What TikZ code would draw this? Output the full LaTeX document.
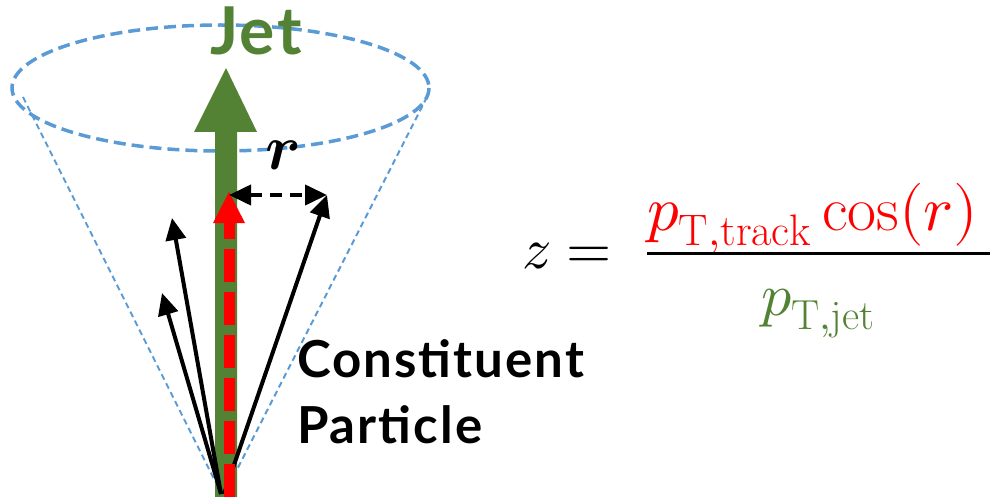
\documentclass[tikz,border=0pt]{standalone}
\usepackage{fontspec}
\usepackage{unicode-math}
\setmathfont{Latin Modern Math}
\newfontfamily\labelfont{Lato}[LetterSpace=4]
\usetikzlibrary{arrows.meta}
\definecolor{jetgreen}{HTML}{548235}
\definecolor{coneblue}{HTML}{5B9BD5}
\definecolor{trkred}{HTML}{FF0000}
\tikzset{
  conerim/.style={draw=coneblue, line width=3.5pt, dash pattern=on 12pt off 6pt},
  coneside/.style={draw=coneblue, line width=2pt, dash pattern=on 6pt off 4pt},
  partarrow/.style={draw=black, line width=4pt, -{Triangle[width=20pt,length=22pt]}},
  lbl/.style={inner sep=0pt, outer sep=0pt},
}
\begin{document}
\begin{tikzpicture}[x=1pt,y=-1pt]
\useasboundingbox (0,0) rectangle (992,497);
% cone
\coordinate (cl) at (23,97);
\coordinate (cr) at (427,97);
\coordinate (apex) at (223,497);
\draw[coneside] (cl) -- (apex);
\draw[coneside] (cr) -- (apex);
\draw[conerim] (220.5,88) ellipse [x radius=208.5, y radius=63];
% jet arrow
\fill[jetgreen] (215,497) -- (215,132) -- (194,132) -- (226,68) -- (257,132) -- (237,132) -- (237,497) -- cycle;
% particle arrows
\coordinate (o1) at (221,494);
\coordinate (o2) at (224,494);
\coordinate (t1) at (172,218);
\coordinate (t2) at (162,293);
\coordinate (t3) at (327,195);
\draw[partarrow] (o1) -- (t1);
\draw[partarrow] (o1) -- (t2);
\draw[partarrow] (o2) -- (t3);
% track (red dashed)
\coordinate (rb) at (229,497);
\coordinate (rt) at (229,192);
\draw[trkred, line width=11pt, dash pattern=on 33pt off 10pt, -{Triangle[width=32pt,length=31pt,line width=0pt]}] (rb) -- (rt);
% r distance
\coordinate (hl) at (229,195);
\draw[black, line width=4pt, dash pattern=on 12pt off 8pt, {Triangle[width=20pt,length=22pt]}-{Triangle[width=20pt,length=22pt]}] (hl) -- (t3);
\node[lbl] (rlab) at (283,155) {\fontsize{64}{64}\selectfont$\symbfit{r}$};
% labels
\node[lbl, anchor=base west, text=jetgreen] (jet) at (210,55) {\labelfont\bfseries\fontsize{66}{66}\selectfont Jet};
\node[lbl, anchor=base west] (con1) at (297,377) {\labelfont\bfseries\fontsize{51}{51}\selectfont Constituent};
\node[lbl, anchor=base west] (con2) at (297,443) {\labelfont\bfseries\fontsize{51}{51}\selectfont Particle};
% formula
\node[lbl, anchor=base east] (zeq) at (612,268) {\fontsize{58}{60}\selectfont$z=$};
\node[lbl, anchor=base west, text=trkred] (num) at (647,230) {\fontsize{63}{66}\selectfont$p_{\mathrm{T,track}}\cos(r)$};
\node[lbl, anchor=base, text=jetgreen] (den) at (818,315) {\fontsize{60}{66}\selectfont$p_{\mathrm{T,jet}}$};
\coordinate (fl) at (647,253);
\coordinate (fr) at (990,253);
\draw[line width=3pt] (fl) -- (fr);
\end{tikzpicture}
\end{document}
